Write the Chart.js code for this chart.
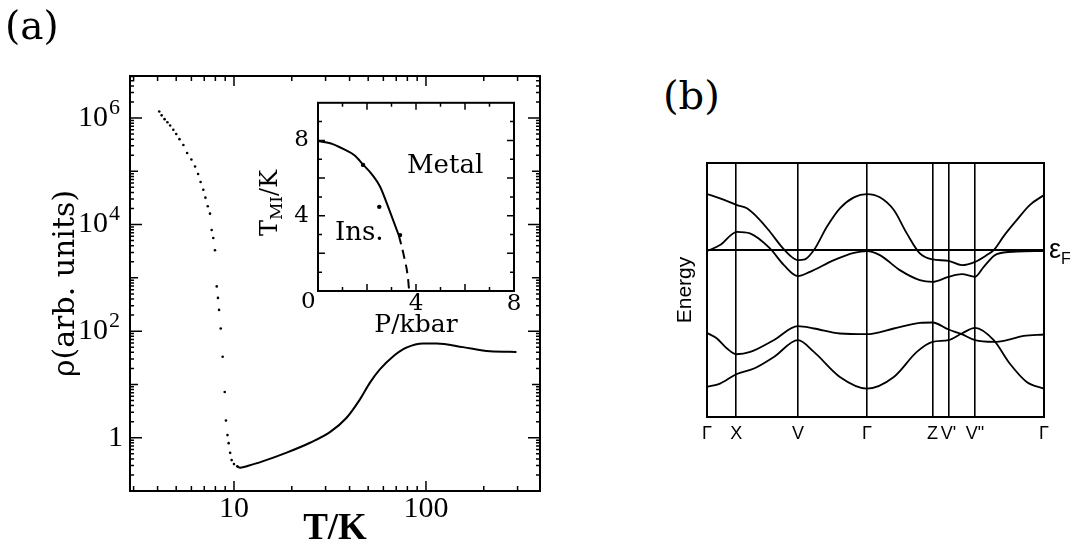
<!DOCTYPE html>
<html>
<head>
<meta charset="utf-8">
<script src="https://cdn.jsdelivr.net/npm/chart.js@4.4.1/dist/chart.umd.min.js"></script>
<style>
body { margin: 0; background: #fff; width: 1070px; height: 552px; position: relative; overflow: hidden; font-family: 'DejaVu Serif', serif; }
canvas { position: absolute; }
.lbl { position: absolute; white-space: nowrap; color: #000; line-height: 1; }
</style>
</head>
<body>
<canvas id="mainChart" width="560" height="552" style="left:0;top:0"></canvas>
<canvas id="insetChart" width="290" height="260" style="left:250px;top:80px"></canvas>
<canvas id="bandChart" width="430" height="310" style="left:640px;top:140px"></canvas>

<div class="lbl" style="left:5px;top:6px;font-size:39px">(a)</div>
<div class="lbl" style="left:663px;top:75px;font-size:40px">(b)</div>
<div class="lbl" style="left:407px;top:151px;font-size:26px">Metal</div>
<div class="lbl" style="left:335px;top:218px;font-size:26px">Ins.</div>
<div class="lbl" style="left:301px;top:289px;font-size:23px">0</div>
<div class="lbl" style="left:271px;top:203px;font-size:24px;transform:translate(-50%,-50%) rotate(-90deg);transform-origin:center">T<sub style="font-size:17px">MI</sub>/K</div>
<div class="lbl" style="left:1049px;top:236px;font-family:'Liberation Sans',sans-serif;font-size:27px">ε<sub style="font-size:16px">F</sub></div>

<script>
// panel (a): resistivity vs temperature
var dotT = [4.08, 4.2, 4.35, 4.5, 4.65, 4.83, 5.0, 5.2, 5.45, 5.7, 6.0, 6.27, 6.5, 6.7, 6.92, 7.1, 7.3, 7.5,
            7.65, 7.8, 7.96, 8.13, 8.25, 8.36, 8.53, 8.73, 8.95, 9.08, 9.25, 9.38, 9.55, 9.72, 10.0, 10.4];
var dotRho = [1.32e6, 1.12e6, 9.5e5, 8.3e5, 7.2e5, 6.0e5, 5.0e5, 4.0e5, 3.1e5, 2.2e5, 1.66e5, 1.23e5, 8.9e4, 6.3e4, 4.5e4, 3.2e4, 2.2e4, 1.6e4,
              7.9e3, 5.6e3, 3.3e3, 690, 420, 250, 112, 33, 7.2, 2.1, 1.12, 0.79, 0.52, 0.38, 0.32, 0.29];
var curveT = [10.4, 10.75, 12.0, 14.2, 18.8, 24.9, 31.6, 38.6, 45.3, 51, 57.5, 67.6, 79, 96.8, 113.7, 156, 215, 296];
var curveRho = [0.29, 0.274, 0.30, 0.363, 0.525, 0.805, 1.27, 2.37, 5.25, 10.7, 19.1, 33.9, 49, 58.9, 58.9, 50.1, 41.7, 40.7];
var xTickVals = [10, 100];
var xTickText = ['10', '100'];
var yTickVals = [1, 1e2, 1e4, 1e6];
var yTickBase = ['1', '10', '10', '10'];
var yTickExp = ['', '2', '4', '6'];

// inset: T_MI vs pressure
var insetP = [0, 0.5, 1.03, 1.5, 1.85, 2.2, 2.53, 2.94, 3.3];
var insetT = [7.97, 7.85, 7.55, 7.2, 6.7, 6.2, 5.55, 4.2, 2.95];
var insetDashP = [3.3, 3.5, 3.67, 3.72];
var insetDashT = [2.95, 1.9, 0.72, 0];
var insetPtsP = [1.84, 2.5, 3.35];
var insetPtsT = [6.7, 4.47, 2.97];
var insetTickVals = [4, 8];

// panel (b): band structure
var kPos = [0, 29.3, 91, 160, 225.7, 241.7, 268.3, 337.3];
var kLabels = ['Γ', 'X', 'V', 'Γ', 'Z', "V'", 'V"', 'Γ'];
var bandAk = [0, 13, 30, 40, 53, 63, 75, 85, 91, 98, 107, 120, 133, 147, 160, 173, 187, 200, 213, 225.7, 241.7, 255, 268.3, 280, 287, 297, 310, 323, 337.3];
var bandAE = [56, 51.7, 45, 41.7, 30, 18.3, 3, -7, -10, -9.3, 0, 23.3, 41.7, 52.7, 56, 52.7, 40, 16.7, -3.3, -9.3, -10.7, -15, -11.7, -5, 0, 14, 30, 45, 55];
var bandBk = [0, 13, 30, 43, 63, 77, 91, 103, 127, 147, 160, 173, 193, 213, 225.7, 241.7, 255, 268.3, 277, 290, 310, 337.3];
var bandBE = [-1, 5, 18.3, 16.7, 1.7, -15, -26, -21.7, -10, -2.7, -1, -5, -20, -30, -31.7, -26.7, -24, -26.7, -16.7, -4, -1.5, -1];
var bandCk = [0, 10, 20, 29.3, 43.3, 66.7, 91, 107, 133, 160, 187, 213, 225.7, 241.7, 255, 268.3, 287, 300, 317, 337.3];
var bandCE = [-82.7, -88.3, -98.3, -104, -101.7, -90, -76, -78.3, -83.3, -84, -78.3, -72.7, -72.3, -79.3, -84, -90, -91.7, -90, -85.7, -84.3];
var bandDk = [0, 13, 29.3, 47, 67, 91, 107, 133, 160, 187, 210, 225.7, 241.7, 255, 268.3, 287, 303, 320, 337.3];
var bandDE = [-136.7, -133.3, -124, -118.3, -106.7, -90, -101.7, -126.7, -138.3, -126.7, -101.7, -91.7, -90, -83.3, -77.7, -90, -113.3, -131.7, -138.3];
var fermiE = 0;

function pts(xs, ys) {
    return xs.map(function(x, i) { return { x: x, y: ys[i] }; });
}

// frame box with inward ticks on all four sides
var frameTicks = {
    id: 'frameTicks',
    afterDatasetsDraw: function(chart, args, opts) {
        var ctx = chart.ctx, a = chart.chartArea;
        ctx.save();
        ctx.strokeStyle = '#000';
        ctx.lineWidth = opts.frameWidth || 2;
        ctx.strokeRect(a.left, a.top, a.right - a.left, a.bottom - a.top);
        ctx.lineWidth = 1.5;
        (opts.x || []).forEach(function(t) {
            var px = chart.scales.x.getPixelForValue(t[0]);
            if (px < a.left || px > a.right) return;
            ctx.beginPath();
            ctx.moveTo(px, a.bottom); ctx.lineTo(px, a.bottom - t[1]);
            ctx.moveTo(px, a.top); ctx.lineTo(px, a.top + t[1]);
            ctx.stroke();
        });
        (opts.y || []).forEach(function(t) {
            var py = chart.scales.y.getPixelForValue(t[0]);
            if (py < a.top || py > a.bottom) return;
            ctx.beginPath();
            ctx.moveTo(a.left, py); ctx.lineTo(a.left + t[1], py);
            ctx.moveTo(a.right, py); ctx.lineTo(a.right - t[1], py);
            ctx.stroke();
        });
        ctx.restore();
    }
};

// superscript exponents next to the y tick labels of panel (a)
var expLabels = {
    id: 'expLabels',
    afterDraw: function(chart, args, opts) {
        if (!opts.exps) return;
        var ctx = chart.ctx, s = chart.scales.y;
        var tickFont = Chart.helpers.toFont(s.options.ticks.font);
        ctx.save();
        ctx.font = tickFont.string;
        var gap = ctx.measureText('\u2002').width;
        var right = s.right - s.options.ticks.padding;
        ctx.font = opts.size + 'px ' + tickFont.family;
        ctx.fillStyle = '#000';
        ctx.textAlign = 'left';
        ctx.textBaseline = 'middle';
        s.ticks.forEach(function(t, i) {
            if (!opts.exps[i]) return;
            ctx.fillText(opts.exps[i], right - gap + 1, s.getPixelForValue(t.value) - 10);
        });
        ctx.restore();
    }
};

var serif = 'DejaVu Serif';
var numFont = 'Liberation Serif';

// tick marks for panel (a)
var mainXTicks = [];
[3, 4, 5, 6, 7, 8, 9, 20, 30, 40, 50, 60, 70, 80, 90, 200, 300].forEach(function(v) { mainXTicks.push([v, 5]); });
xTickVals.forEach(function(v) { mainXTicks.push([v, 10]); });
var mainYTicks = [];
for (var d = -1; d <= 6; d++) {
    for (var m = 1; m <= 9; m++) {
        mainYTicks.push([m * Math.pow(10, d), m === 1 ? (d % 2 === 0 ? 12 : 8) : 4]);
    }
}

new Chart(document.getElementById('mainChart'), {
    type: 'scatter',
    data: {
        datasets: [{
            data: pts(dotT, dotRho),
            pointRadius: 1.3,
            backgroundColor: '#000',
            borderWidth: 0
        }, {
            data: pts(curveT, curveRho),
            showLine: true,
            pointRadius: 0,
            borderColor: '#000',
            borderWidth: 2,
            cubicInterpolationMode: 'monotone'
        }]
    },
    options: {
        responsive: false,
        animation: false,
        layout: { padding: { left: 0, top: 76, right: 20, bottom: 0 } },
        plugins: {
            legend: { display: false },
            tooltip: { enabled: false },
            frameTicks: { x: mainXTicks, y: mainYTicks, frameWidth: 2 },
            expLabels: { exps: yTickExp, size: 22 }
        },
        scales: {
            x: {
                type: 'logarithmic',
                min: 2.873,
                max: 392.6,
                grid: { display: false, drawTicks: false },
                border: { display: false },
                afterBuildTicks: function(s) { s.ticks = xTickVals.map(function(v) { return { value: v }; }); },
                afterFit: function(s) { s.height = 61; },
                ticks: {
                    color: '#000',
                    padding: 0,
                    maxRotation: 0,
                    font: { family: numFont, size: 30 },
                    callback: function(v, i) { return xTickText[i]; }
                },
                title: {
                    display: true,
                    text: 'T/K',
                    color: '#000',
                    font: { family: numFont, size: 37, weight: 'bold' },
                    padding: { top: 0, bottom: 0 }
                }
            },
            y: {
                type: 'logarithmic',
                min: 0.1,
                max: 6.13e6,
                grid: { display: false, drawTicks: false },
                border: { display: false },
                afterBuildTicks: function(s) { s.ticks = yTickVals.map(function(v) { return { value: v }; }); },
                afterFit: function(s) { s.width = 130; },
                ticks: {
                    color: '#000',
                    padding: 7,
                    font: { family: numFont, size: 30 },
                    callback: function(v, i) { return yTickBase[i] + (yTickExp[i] ? '\u2002' : ''); }
                },
                title: {
                    display: true,
                    text: 'ρ(arb. units)',
                    color: '#000',
                    font: { family: serif, size: 30 },
                    padding: { top: 48, bottom: 0 }
                }
            }
        }
    },
    plugins: [frameTicks, expLabels]
});

// tick marks for the inset
var insetXTicks = [], insetYTicks = [];
for (var i = 1; i < 8; i++) insetXTicks.push([i, i % 2 === 0 ? 7 : 4]);
for (var j = 1; j < 10; j++) insetYTicks.push([j, j % 2 === 0 ? 7 : 4]);

new Chart(document.getElementById('insetChart'), {
    type: 'scatter',
    data: {
        datasets: [{
            data: pts(insetP, insetT),
            showLine: true,
            pointRadius: 0,
            borderColor: '#000',
            borderWidth: 2,
            cubicInterpolationMode: 'monotone'
        }, {
            data: pts(insetDashP, insetDashT),
            showLine: true,
            pointRadius: 0,
            borderColor: '#000',
            borderWidth: 2,
            borderDash: [9, 6],
            cubicInterpolationMode: 'monotone'
        }, {
            data: pts(insetPtsP, insetPtsT),
            pointRadius: 2.2,
            backgroundColor: '#000',
            borderWidth: 0
        }]
    },
    options: {
        responsive: false,
        animation: false,
        layout: { padding: { left: 0, top: 13, right: 26, bottom: 0 } },
        plugins: {
            legend: { display: false },
            tooltip: { enabled: false },
            frameTicks: { x: insetXTicks, y: insetYTicks, frameWidth: 2 }
        },
        scales: {
            x: {
                type: 'linear',
                min: 0,
                max: 8,
                grid: { display: false, drawTicks: false },
                border: { display: false },
                afterBuildTicks: function(s) { s.ticks = insetTickVals.map(function(v) { return { value: v }; }); },
                afterFit: function(s) { s.height = 49; },
                ticks: { color: '#000', padding: -1, maxRotation: 0, font: { family: serif, size: 23 } },
                title: {
                    display: true,
                    text: 'P/kbar',
                    color: '#000',
                    font: { family: serif, size: 25 },
                    padding: { top: 0, bottom: 0 }
                }
            },
            y: {
                type: 'linear',
                min: 0,
                max: 10,
                grid: { display: false, drawTicks: false },
                border: { display: false },
                afterBuildTicks: function(s) { s.ticks = insetTickVals.map(function(v) { return { value: v }; }); },
                afterFit: function(s) { s.width = 68; },
                ticks: { color: '#000', padding: 9, font: { family: serif, size: 23 } }
            }
        }
    },
    plugins: [frameTicks]
});

// panel (b)
var bandStyle = { showLine: true, pointRadius: 0, borderColor: '#000', borderWidth: 1.8, cubicInterpolationMode: 'monotone' };
function band(xs, ys) {
    return Object.assign({ data: pts(xs, ys) }, bandStyle);
}

new Chart(document.getElementById('bandChart'), {
    type: 'scatter',
    data: {
        datasets: [
            band(bandAk, bandAE),
            band(bandBk, bandBE),
            band(bandCk, bandCE),
            band(bandDk, bandDE),
            Object.assign({ data: [{ x: kPos[0], y: fermiE }, { x: kPos[kPos.length - 1], y: fermiE }] }, bandStyle, { borderWidth: 2 })
        ]
    },
    options: {
        responsive: false,
        animation: false,
        layout: { padding: { left: 0, top: 23, right: 26, bottom: 0 } },
        plugins: {
            legend: { display: false },
            tooltip: { enabled: false },
            frameTicks: { frameWidth: 2 }
        },
        scales: {
            x: {
                type: 'linear',
                min: kPos[0],
                max: kPos[kPos.length - 1],
                grid: { display: true, color: '#000', lineWidth: 1.6, drawTicks: false },
                border: { display: false },
                afterBuildTicks: function(s) { s.ticks = kPos.map(function(v) { return { value: v }; }); },
                afterFit: function(s) { s.height = 33; },
                ticks: {
                    color: '#000',
                    padding: 6,
                    maxRotation: 0,
                    autoSkip: false,
                    font: { family: 'Liberation Sans', size: 18 },
                    callback: function(v, i) { return kLabels[i]; }
                }
            },
            y: {
                type: 'linear',
                min: -166.7,
                max: 87,
                grid: { display: false, drawTicks: false },
                border: { display: false },
                afterFit: function(s) { s.width = 67; },
                ticks: { display: false },
                title: {
                    display: true,
                    text: 'Energy',
                    color: '#000',
                    font: { family: 'Liberation Sans', size: 21 },
                    padding: { top: 33, bottom: 0 }
                }
            }
        }
    },
    plugins: [frameTicks]
});
</script>
</body>
</html>
